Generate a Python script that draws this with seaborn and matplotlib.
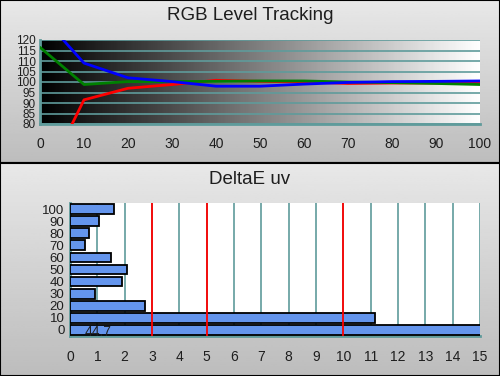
import matplotlib
matplotlib.use("Agg")
import matplotlib.pyplot as plt
import numpy as np
import pandas as pd
import seaborn as sns

# data
levels = [0, 10, 20, 30, 40, 50, 60, 70, 80, 90, 100]
red = [49, 91.5, 97, 98.8, 100.8, 100.3, 100, 99.3, 99.5, 99.5, 99.8]
green = [116.5, 98.8, 100.2, 100.2, 100.3, 100.5, 100.5, 100, 99.7, 99.3, 98.8]
blue = [132.4, 109, 102, 100.2, 98, 98, 99, 99.8, 100.2, 100.3, 100.5]

bar_cats = ["100", "90", "80", "70", "60", "50", "40", "30", "20", "10", "0"]
bar_vals = [1.6, 1.05, 0.7, 0.55, 1.5, 2.08, 1.9, 0.92, 2.75, 11.15, 44.7]
limit_lines = [3, 5, 10]

teal = "#5f9b9b"
txt = "#1e1e1e"
sns.set_style("white")
plt.rcParams["font.family"] = ["Liberation Sans", "DejaVu Sans"]

fig = plt.figure(figsize=(5, 3.76), dpi=100)

# panel backgrounds (vertical light-to-darker grey gradient)
grad = np.linspace(0.91, 0.74, 100).reshape(-1, 1)
for (b, h) in [(213 / 376, 163 / 376), (0, 213 / 376)]:
    bg = fig.add_axes([0, b, 1, h], zorder=-5)
    bg.imshow(grad, cmap="gray", vmin=0, vmax=1, aspect="auto",
              extent=[0, 1, 0, 1])
    bg.set_xlim(0, 1)
    bg.set_ylim(0, 1)
    bg.set_xticks([])
    bg.set_yticks([])
    for s in bg.spines.values():
        s.set_color("black")
        s.set_linewidth(1.5)

fig.text(0.5, 1 - 16 / 376, "RGB Level Tracking", ha="center", va="center",
         fontsize=13.5, color=txt)
fig.text(0.5, 1 - 179 / 376, "DeltaE uv", ha="center", va="center",
         fontsize=13.5, color=txt)

# --- top chart ---
ax1 = fig.add_axes([40 / 500, 1 - 124 / 376, 440 / 500, 84 / 376])
hgrad = np.linspace(0, 1, 200).reshape(1, -1)
ax1.imshow(hgrad, cmap="gray", vmin=0, vmax=1, aspect="auto",
           extent=[0, 100, 80, 120], zorder=0)
df = pd.DataFrame({"level": levels * 3,
                   "value": red + green + blue,
                   "ch": ["R"] * 11 + ["G"] * 11 + ["B"] * 11})
sns.lineplot(data=df, x="level", y="value", hue="ch",
             palette={"R": "#ff0000", "G": "#008000", "B": "#0000ff"},
             linewidth=2, legend=False, ax=ax1, zorder=3)
ax1.set_xlim(0, 100)
ax1.set_ylim(80, 120)
ax1.set_xticks(range(0, 101, 10))
ax1.set_yticks(range(80, 121, 5))
ax1.grid(axis="y", color=teal, linewidth=1.2, zorder=1)
ax1.set_axisbelow(False)
for s in ["top", "right"]:
    ax1.spines[s].set_visible(False)
for s in ["left", "bottom"]:
    ax1.spines[s].set_color(teal)
    ax1.spines[s].set_linewidth(2)
ax1.tick_params(axis="x", direction="inout", length=8, width=2, color=teal,
                labelsize=10, labelcolor=txt, pad=5)
ax1.tick_params(axis="y", direction="out", length=3, width=2, color=teal,
                labelsize=8.5, labelcolor=txt, pad=0)
for lab in ax1.get_yticklabels():
    lab.set_fontstretch("condensed")
ax1.set_xlabel("")
ax1.set_ylabel("")

# --- bottom chart ---
ax2 = fig.add_axes([70 / 500, 40 / 376, 410 / 500, 133 / 376])
ax2.set_facecolor("white")
sns.barplot(x=bar_vals, y=bar_cats, order=bar_cats, orient="h",
            color="#6495ed", saturation=1, edgecolor="black", linewidth=1.3,
            width=0.8, ax=ax2, zorder=3)
ax2.set_xlim(0, 15)
ax2.set_ylim(10.5, -0.5)
ax2.set_xticks(range(0, 16))
ax2.grid(axis="x", color=teal, linewidth=1.2, zorder=1)
ax2.set_axisbelow(True)
for v in limit_lines:
    ax2.axvline(v, color="red", linewidth=1.3, zorder=4)
ax2.text(0.55, 10.2, "44.7", fontsize=10, color=txt, ha="left",
         va="center", zorder=5)
for s in ["top", "right"]:
    ax2.spines[s].set_visible(False)
for s in ["left", "bottom"]:
    ax2.spines[s].set_color(teal)
    ax2.spines[s].set_linewidth(2)
ax2.set_yticks(np.arange(-0.5, 11, 1), minor=True)
ax2.tick_params(axis="y", which="major", length=0, labelsize=9.5,
                labelcolor=txt, pad=4)
ax2.tick_params(axis="y", which="minor", direction="out", length=4, width=2,
                color=teal)
ax2.tick_params(axis="x", direction="inout", length=8, width=2, color=teal,
                labelsize=10, labelcolor=txt, pad=6)
ax2.set_xlabel("")
ax2.set_ylabel("")

fig.savefig("out.png", dpi=100)
